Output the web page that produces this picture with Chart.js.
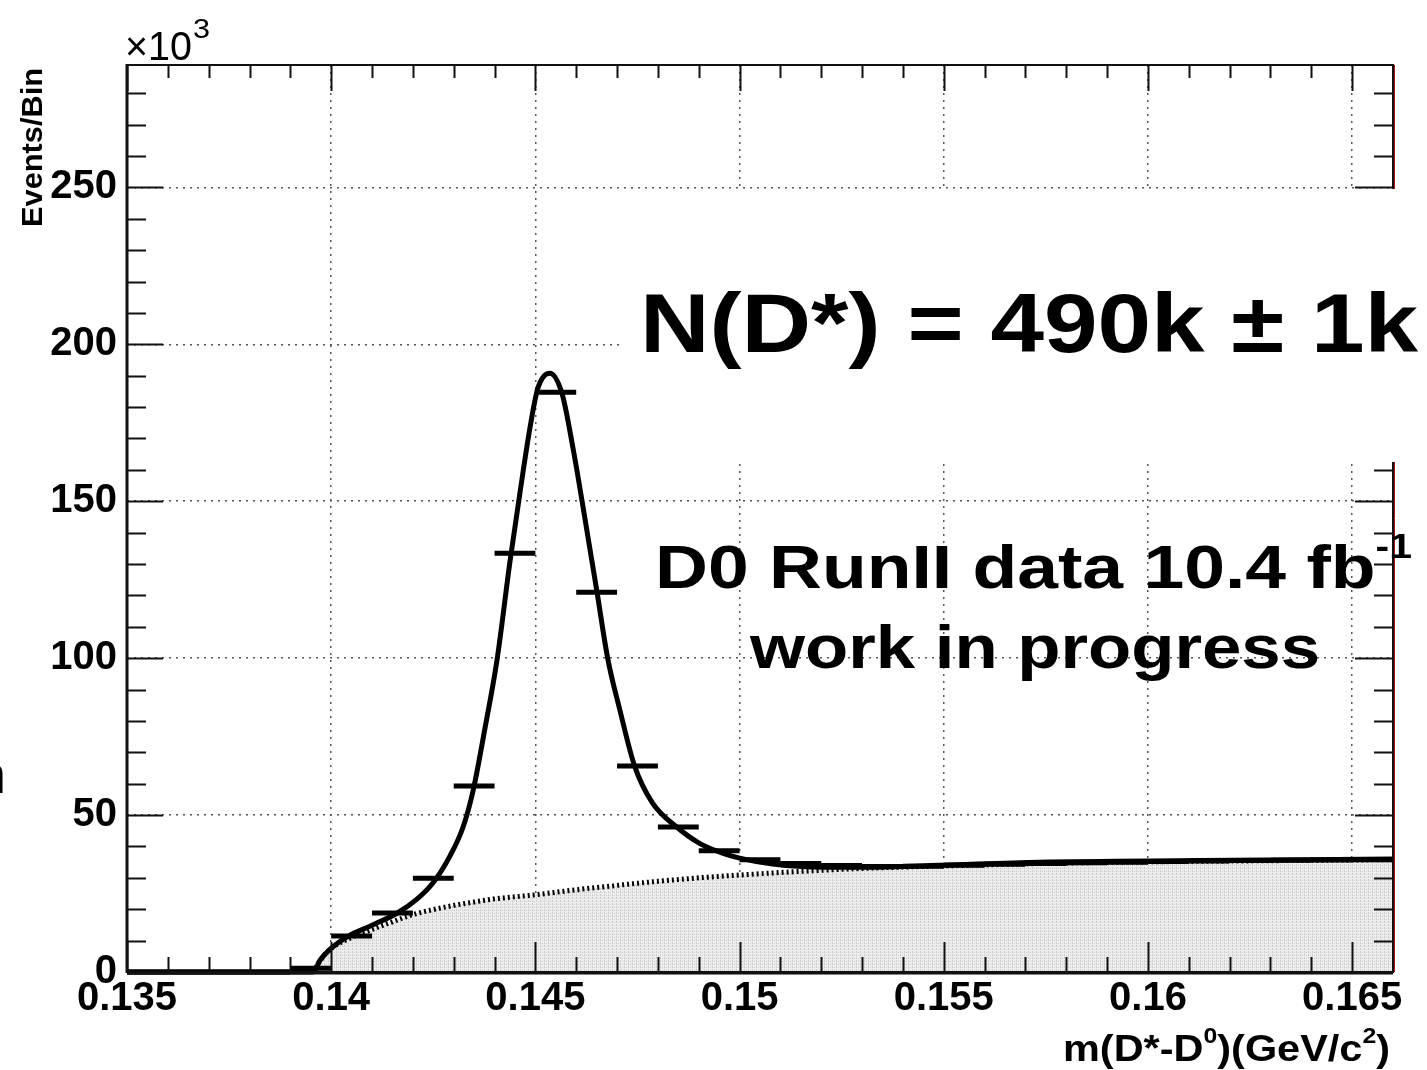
<!DOCTYPE html>
<html>
<head>
<meta charset="utf-8">
<script src="https://cdn.jsdelivr.net/npm/chart.js@4.4.1/dist/chart.umd.min.js"></script>
<style>
  html, body { margin: 0; padding: 0; background: #fff; }
</style>
</head>
<body>
<canvas id="massChart" width="1427" height="1070"></canvas>
<script>
// --- data (values in units of 10^3 events) ---
const binCenters = [0.1355, 0.1365, 0.1375, 0.1385, 0.1395, 0.1405, 0.1415, 0.1425, 0.1435, 0.1445,
                    0.1455, 0.1465, 0.1475, 0.1485, 0.1495, 0.1505, 0.1515, 0.1525, 0.1535, 0.1545,
                    0.1555, 0.1565, 0.1575, 0.1585, 0.1595, 0.1605, 0.1615, 0.1625, 0.1635, 0.1645, 0.1655];
const binCounts  = [0, 0, 0, 0, 1.2, 11.5, 18.8, 29.9, 59.3, 133.4,
                    184.7, 121.0, 65.6, 46.2, 38.6, 35.8, 34.6, 33.9, 33.6, 33.7,
                    34.0, 34.3, 34.6, 34.8, 35.0, 35.2, 35.4, 35.5, 35.6, 35.7, 35.8];
const binWidth = 0.001;

// fit: signal + background
const fitX = [0.135, 0.13956, 0.13973, 0.1400, 0.1404, 0.1410, 0.14162, 0.1421, 0.1425, 0.14291,
              0.14323, 0.14347, 0.14377, 0.14406, 0.14438, 0.14462, 0.14487, 0.14506, 0.14535, 0.14565,
              0.14592, 0.14614, 0.14651, 0.14677, 0.14707, 0.14743, 0.14787, 0.14846, 0.14902, 0.14958,
              0.15000, 0.15081, 0.15203, 0.15325, 0.15489, 0.15733, 0.16124, 0.166];
const fitY = [0, 0, 3.8, 7.6, 11.3, 14.9, 18.8, 23.2, 28.5, 37.0,
              46.2, 57.5, 78.0, 99.4, 131.0, 152.5, 173.6, 186.0, 190.8, 184.4,
              167.0, 150.3, 121.0, 100.0, 83.4, 65.6, 53.8, 46.2, 41.0, 37.9,
              36.3, 34.4, 33.4, 33.4, 34.0, 35.0, 35.5, 36.0];

// fit: background only
const bkgX = [0.13956, 0.13975, 0.1400, 0.1405, 0.1410, 0.1415, 0.1420, 0.1425, 0.1430, 0.1435,
              0.1440, 0.1450, 0.1460, 0.1470, 0.1480, 0.1490, 0.1500, 0.1510, 0.1520, 0.1530,
              0.1550, 0.1575, 0.1600, 0.1625, 0.166];
const bkgY = [0, 4.0, 7.5, 11.0, 13.6, 16.0, 18.3, 19.9, 21.2, 22.3,
              23.3, 24.6, 26.2, 27.6, 28.9, 30.0, 30.9, 31.7, 32.4, 33.0,
              33.8, 34.6, 35.1, 35.4, 35.8];

const xTickValues = [0.135, 0.14, 0.145, 0.15, 0.155, 0.16, 0.165];
const yTickValues = [0, 50, 100, 150, 200, 250];

const FONT = '"Liberation Sans", Arial, Helvetica, sans-serif';

// --- build what the library needs ---
const binPoints = [];
binCenters.forEach((c, i) => {
    binPoints.push({ x: c - binWidth / 2, y: binCounts[i] });
    binPoints.push({ x: c + binWidth / 2, y: binCounts[i] });
    binPoints.push({ x: c + binWidth / 2, y: null });
});
const fitPoints = fitX.map((x, i) => ({ x: x, y: fitY[i] }));
const bkgPoints = bkgX.map((x, i) => ({ x: x, y: bkgY[i] }));

// light grey dotted hatch like the ROOT fill
function makePattern() {
    const c = document.createElement('canvas');
    c.width = 4; c.height = 3;
    const g = c.getContext('2d');
    g.fillStyle = '#ededed';
    g.fillRect(0, 0, 4, 3);
    g.fillStyle = '#cdcdcd';
    g.fillRect(0, 0, 1, 2);
    g.fillRect(2, 1, 1, 1);
    return g.createPattern(c, 'repeat');
}

// text with superscripts, stretched to a given width
function drawRich(ctx, parts, x0, x1, baseline, size, weight, supScale, supRise) {
    let w = 0;
    parts.forEach(([t, sup]) => {
        ctx.font = `${weight} ${sup ? size * supScale : size}px ${FONT}`;
        w += ctx.measureText(t).width;
    });
    const sx = (x1 - x0) / w;
    ctx.save();
    ctx.translate(x0, baseline);
    ctx.scale(sx, 1);
    ctx.textAlign = 'left';
    ctx.textBaseline = 'alphabetic';
    ctx.fillStyle = '#000';
    let x = 0;
    parts.forEach(([t, sup]) => {
        ctx.font = `${weight} ${sup ? size * supScale : size}px ${FONT}`;
        ctx.fillText(t, x, sup ? -size * supRise : 0);
        x += ctx.measureText(t).width;
    });
    ctx.restore();
}

// --- frame, inside ticks and the labels ---
const rootFrame = {
    id: 'rootFrame',
    beforeDatasetsDraw(chart) {
        // thin red zero line under the data
        const ctx = chart.ctx;
        const { left, right, bottom } = chart.chartArea;
        ctx.save();
        ctx.strokeStyle = '#b01010';
        ctx.lineWidth = 1.5;
        ctx.beginPath();
        ctx.moveTo(left + 2, bottom - 1); ctx.lineTo(right, bottom - 1);
        ctx.stroke();
        ctx.restore();
    },
    afterDraw(chart) {
        const ctx = chart.ctx;
        const { left, right, top, bottom } = chart.chartArea;
        const xs = chart.scales.x, ys = chart.scales.y;

        ctx.save();
        ctx.strokeStyle = '#111';
        ctx.lineWidth = 2;
        ctx.beginPath();
        for (let k = 135; k <= 166; k++) {
            const px = Math.round(xs.getPixelForValue(k / 1000)) + 0.5;
            const major = k % 5 === 0;
            ctx.moveTo(px, bottom); ctx.lineTo(px, bottom - (major ? 30 : 15));
            ctx.moveTo(px, top); ctx.lineTo(px, top + (major ? 26 : 13));
        }
        for (let k = 0; k <= 28; k++) {
            const py = Math.round(ys.getPixelForValue(k * 10)) + 0.5;
            const major = k % 5 === 0;
            ctx.moveTo(left, py); ctx.lineTo(left + (major ? 36 : 19), py);
            ctx.moveTo(right, py); ctx.lineTo(right - (major ? 38 : 19), py);
        }
        ctx.stroke();

        // frame
        ctx.lineWidth = 2;
        ctx.strokeRect(left, top, right - left, bottom - top);
        ctx.lineWidth = 3;
        ctx.beginPath();
        ctx.moveTo(left, top - 1); ctx.lineTo(left, bottom + 1);
        ctx.moveTo(left, bottom + 1); ctx.lineTo(right, bottom + 1);
        ctx.stroke();
        ctx.strokeStyle = '#b01010';
        ctx.lineWidth = 1;
        ctx.beginPath();
        ctx.moveTo(right + 1.5, top); ctx.lineTo(right + 1.5, bottom);
        ctx.stroke();

        // white box behind the yield text
        ctx.fillStyle = '#fff';
        ctx.fillRect(622, 189, 1427 - 622, 462 - 189);

        drawRich(ctx, [['N(D*) = 490k \u00b1 1k', false]], 640, 1418, 352, 84, 'bold', 0.6, 0.5);
        drawRich(ctx, [['D0 RunII data 10.4 fb', false], ['-1', true]], 655, 1412, 588, 61, 'bold', 0.56, 0.5);
        drawRich(ctx, [['work in progress', false]], 750, 1320, 668, 61, 'bold', 0.6, 0.5);

        // axis titles
        drawRich(ctx, [['m(D*-D', false], ['0', true], [')(GeV/c', false], ['2', true], [')', false]],
                 1063, 1390, 1061, 37, 'bold', 0.6, 0.5);
        drawRich(ctx, [['\u00d710', false]], 125, 192, 60, 41, 'normal', 0.6, 0.5);
        drawRich(ctx, [['3', false]], 193, 210, 38, 27, 'normal', 0.6, 0.5);

        ctx.save();
        ctx.translate(42, 227);
        ctx.rotate(-Math.PI / 2);
        drawRich(ctx, [['Events/Bin', false]], 0, 159, 0, 30, 'bold', 0.6, 0.5);
        ctx.restore();

        // clipped letter at the left edge of the slide
        ctx.fillStyle = '#000';
        ctx.font = `54px ${FONT}`;
        ctx.textAlign = 'right';
        ctx.textBaseline = 'alphabetic';
        ctx.fillText('n', 6, 793);
        ctx.restore();
    }
};

const tickFont = { family: FONT, size: 40, weight: 'bold' };

new Chart(document.getElementById('massChart').getContext('2d'), {
    type: 'line',
    data: {
        datasets: [
            {
                label: 'background',
                data: bkgPoints,
                borderColor: '#000',
                borderWidth: 5,
                borderDash: [2, 3],
                backgroundColor: makePattern(),
                fill: 'origin',
                pointRadius: 0,
                cubicInterpolationMode: 'monotone',
                order: 3
            },
            {
                label: 'fit',
                data: fitPoints,
                borderColor: '#000',
                borderWidth: 5,
                fill: false,
                pointRadius: 0,
                cubicInterpolationMode: 'monotone',
                clip: { left: 0, top: 0, right: 0, bottom: 4 },
                order: 1
            },
            {
                label: 'data',
                data: binPoints,
                borderColor: '#000',
                borderWidth: 5,
                fill: false,
                pointRadius: 0,
                tension: 0,
                spanGaps: false,
                clip: { left: 0, top: 0, right: 0, bottom: 4 },
                order: 2
            }
        ]
    },
    options: {
        responsive: false,
        animation: false,
        devicePixelRatio: 1,
        layout: { padding: { top: 65, right: 34, left: 0, bottom: 0 } },
        plugins: { legend: { display: false }, tooltip: { enabled: false } },
        scales: {
            x: {
                type: 'linear',
                min: 0.135,
                max: 0.166,
                z: 1,
                afterBuildTicks: (s) => { s.ticks = xTickValues.map(v => ({ value: v })); },
                afterFit: (s) => { s.height = 98; },
                ticks: {
                    font: tickFont,
                    color: '#000',
                    padding: 3,
                    maxRotation: 0,
                    autoSkip: false,
                    callback: (v) => parseFloat(Number(v).toFixed(3)).toString()
                },
                grid: { color: '#555', lineWidth: 1.5, drawTicks: false },
                border: { display: false, dash: [2, 5] }
            },
            y: {
                type: 'linear',
                min: 0,
                max: 289,
                z: 1,
                afterBuildTicks: (s) => { s.ticks = yTickValues.map(v => ({ value: v })); },
                afterFit: (s) => { s.width = 127; },
                ticks: {
                    font: tickFont,
                    color: '#000',
                    padding: 10,
                    autoSkip: false,
                    callback: (v) => String(v)
                },
                grid: { color: '#555', lineWidth: 1.5, drawTicks: false },
                border: { display: false, dash: [2, 5] }
            }
        }
    },
    plugins: [rootFrame]
});
</script>
</body>
</html>
